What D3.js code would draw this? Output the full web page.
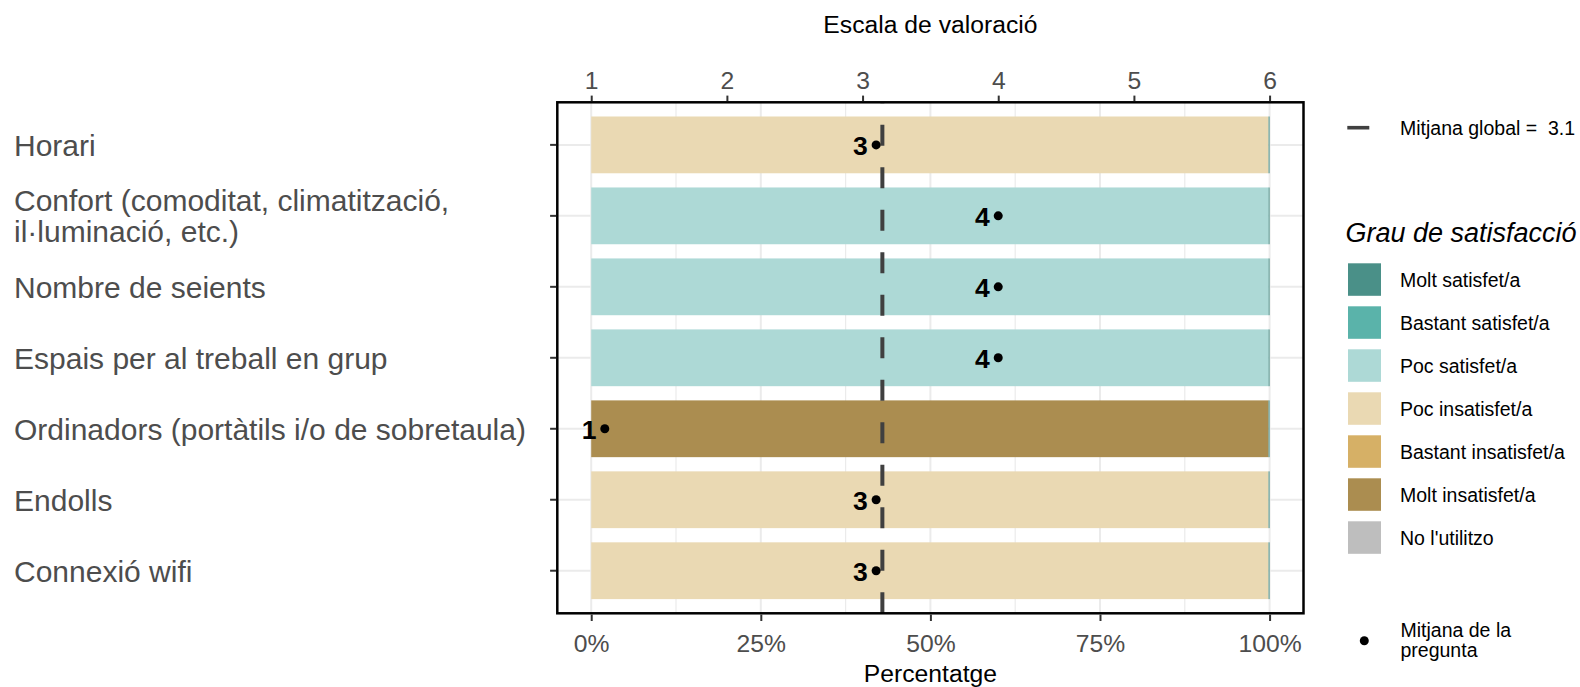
<!DOCTYPE html>
<html>
<head>
<meta charset="utf-8">
<script src="https://cdn.jsdelivr.net/npm/d3@7"></script>
<style>
  html, body { margin: 0; padding: 0; background: #fff; }
  svg { display: block; font-family: "Liberation Sans", Arial, sans-serif; }
</style>
</head>
<body>
<svg id="chart" width="1580" height="687"></svg>
<script>
// ---------------- DATA ----------------
const categories = [
  "Horari",
  "Confort (comoditat, climatització,\nil·luminació, etc.)",
  "Nombre de seients",
  "Espais per al treball en grup",
  "Ordinadors (portàtils i/o de sobretaula)",
  "Endolls",
  "Connexió wifi"
];
// stacking order, left to right
const levels = ["No l'utilitzo", "Molt insatisfet/a", "Bastant insatisfet/a", "Poc insatisfet/a",
                "Poc satisfet/a", "Bastant satisfet/a", "Molt satisfet/a"];
// percentage of answers per level (one value per category)
const noUtilitzo        = [0, 0, 0, 0, 0, 0, 0];
const moltInsatisfet    = [0, 0, 0, 0, 99.85, 0, 0];
const bastantInsatisfet = [0, 0, 0, 0, 0, 0, 0];
const pocInsatisfet     = [99.85, 0, 0, 0, 0, 99.85, 99.85];
const pocSatisfet       = [0, 99.85, 99.85, 99.85, 0, 0, 0];
const bastantSatisfet   = [0, 0, 0, 0, 0, 0, 0];
const moltSatisfet      = [0.15, 0.15, 0.15, 0.15, 0.15, 0.15, 0.15];
// mean score per question (scale 1-6)
const means = [3.1, 4.0, 4.0, 4.0, 1.1, 3.1, 3.1];
const globalMean = 3.146;
const scaleTicks = [1, 2, 3, 4, 5, 6];
const pctTicks = [0, 25, 50, 75, 100];
const legendOrder = ["Molt satisfet/a", "Bastant satisfet/a", "Poc satisfet/a", "Poc insatisfet/a",
                     "Bastant insatisfet/a", "Molt insatisfet/a", "No l'utilitzo"];
const levelColors = ["#bebebe", "#ab8d50", "#d6b066", "#ead9b3", "#add9d6", "#5ab3aa", "#4a9088"];

// ---------------- LAYOUT ----------------
const svg = d3.select("#chart");
const panel = { left: 557.3, right: 1303.5, top: 102.3, bottom: 613.3 };
const pw = panel.right - panel.left;
const unit = pw / 1.1;
const x = d3.scaleLinear().domain([0, 100]).range([panel.left + 0.05 * unit, panel.right - 0.05 * unit]);
const xTop = d3.scaleLinear().domain([1, 6]).range(x.range());
const y = d3.scaleBand().domain(categories).range([panel.top, panel.bottom])
  .paddingInner(0.2).paddingOuter(0.2).align(0.5);
const color = d3.scaleOrdinal().domain(levels).range(levelColors);

const seriesVals = [noUtilitzo, moltInsatisfet, bastantInsatisfet, pocInsatisfet, pocSatisfet, bastantSatisfet, moltSatisfet];
const table = categories.map((c, i) => {
  const row = { cat: c };
  levels.forEach((l, j) => row[l] = seriesVals[j][i]);
  return row;
});
const stacked = d3.stack().keys(levels)(table);

// ---------------- GRID ----------------
const grid = svg.append("g");
const minorTicks = d3.range(12.5, 100, 25);
grid.selectAll("line.minor").data(minorTicks).join("line")
  .attr("x1", d => x(d)).attr("x2", d => x(d))
  .attr("y1", panel.top).attr("y2", panel.bottom)
  .attr("stroke", "#ebebeb").attr("stroke-width", 1.2);
grid.selectAll("line.majx").data(pctTicks).join("line")
  .attr("x1", d => x(d)).attr("x2", d => x(d))
  .attr("y1", panel.top).attr("y2", panel.bottom)
  .attr("stroke", "#ebebeb").attr("stroke-width", 2);
grid.selectAll("line.majy").data(categories).join("line")
  .attr("x1", panel.left).attr("x2", panel.right)
  .attr("y1", d => y(d) + y.bandwidth() / 2).attr("y2", d => y(d) + y.bandwidth() / 2)
  .attr("stroke", "#ebebeb").attr("stroke-width", 2);

// ---------------- BARS ----------------
svg.append("g").selectAll("g").data(stacked).join("g")
  .attr("fill", d => color(d.key))
  .selectAll("rect").data(d => d).join("rect")
  .attr("x", d => x(d[0]))
  .attr("width", d => Math.max(0, x(d[1]) - x(d[0])))
  .attr("y", d => y(d.data.cat))
  .attr("height", y.bandwidth());

// ---------------- GLOBAL MEAN LINE ----------------
svg.append("line")
  .attr("x1", xTop(globalMean)).attr("x2", xTop(globalMean))
  .attr("y1", panel.bottom).attr("y2", panel.top)
  .attr("stroke", "#404040").attr("stroke-width", 4)
  .attr("stroke-dasharray", "21,21.5");

// ---------------- MEANS ----------------
svg.append("g").selectAll("circle").data(categories).join("circle")
  .attr("cx", (d, i) => xTop(means[i]))
  .attr("cy", d => y(d) + y.bandwidth() / 2)
  .attr("r", 4.5).attr("fill", "#000");
svg.append("g").selectAll("text").data(categories).join("text")
  .attr("x", (d, i) => xTop(means[i]) - 8.4)
  .attr("y", d => y(d) + y.bandwidth() / 2 + 10)
  .attr("text-anchor", "end")
  .attr("font-size", 26.5).attr("font-weight", "bold").attr("fill", "#000")
  .text((d, i) => d3.format(".0f")(means[i]));

// ---------------- PANEL BORDER ----------------
svg.append("rect")
  .attr("x", panel.left).attr("y", panel.top)
  .attr("width", pw).attr("height", panel.bottom - panel.top)
  .attr("fill", "none").attr("stroke", "#000").attr("stroke-width", 2.5);

// ---------------- AXES ----------------
function styleAxis(g) {
  g.select(".domain").remove();
  g.selectAll(".tick line").attr("stroke", "#333").attr("stroke-width", 2);
  g.selectAll(".tick text").attr("fill", "#4d4d4d").attr("font-family", "Liberation Sans, Arial, sans-serif");
}
const axTop = svg.append("g").attr("transform", `translate(0,${panel.top - 1.2})`)
  .call(d3.axisTop(xTop).tickValues(scaleTicks).tickFormat(d3.format("d")).tickSize(5.5).tickPadding(6.5));
styleAxis(axTop);
axTop.selectAll(".tick text").attr("font-size", 24.7).attr("dy", 0);
axTop.selectAll(".tick text").attr("y", -12.2 + 0);

const axBot = svg.append("g").attr("transform", `translate(0,${panel.bottom + 1.2})`)
  .call(d3.axisBottom(x).tickValues(pctTicks).tickFormat(d => d + "%").tickSize(6.5));
styleAxis(axBot);
axBot.selectAll(".tick text").attr("font-size", 24.7).attr("dy", 0).attr("y", 37.2);

const axLeft = svg.append("g").attr("transform", `translate(${panel.left - 1.2},0)`)
  .call(d3.axisLeft(y).tickSize(6).tickFormat(""));
styleAxis(axLeft);

// category labels (left aligned)
const catLab = svg.append("g").selectAll("text").data(categories).join("text")
  .attr("x", 14)
  .attr("font-size", 30).attr("fill", "#4d4d4d");
catLab.each(function (d) {
  const lines = d.split("\n");
  const cy = y(d) + y.bandwidth() / 2;
  const lh = 30.4;
  const t = d3.select(this);
  lines.forEach((ln, k) => {
    t.append("tspan").attr("x", 14)
      .attr("y", cy + 10.8 + (k - (lines.length - 1) / 2) * lh)
      .text(ln);
  });
});

// axis titles
svg.append("text").attr("x", (x(0) + x(100)) / 2).attr("y", 33.3)
  .attr("text-anchor", "middle").attr("font-size", 24.7).attr("fill", "#000")
  .text("Escala de valoració");
svg.append("text").attr("x", (x(0) + x(100)) / 2).attr("y", 681.5)
  .attr("text-anchor", "middle").attr("font-size", 24.7).attr("fill", "#000")
  .text("Percentatge");

// ---------------- LEGENDS ----------------
const lg = svg.append("g");
lg.append("line").attr("x1", 1347.3).attr("x2", 1369.3).attr("y1", 127.7).attr("y2", 127.7)
  .attr("stroke", "#404040").attr("stroke-width", 3.6);
lg.append("text").attr("x", 1400).attr("y", 134.5).attr("font-size", 19.5).attr("fill", "#000")
  .attr("xml:space", "preserve").style("white-space", "pre")
  .text("Mitjana global =  " + d3.format(".1f")(globalMean));

lg.append("text").attr("x", 1345.5).attr("y", 241.5).attr("font-size", 27)
  .attr("font-style", "italic").attr("fill", "#000").text("Grau de satisfacció");

const keys = lg.append("g").selectAll("g").data(legendOrder).join("g")
  .attr("transform", (d, i) => `translate(1348,${263.3 + i * 43})`);
keys.append("rect").attr("width", 33).attr("height", 32.5).attr("fill", d => color(d));
keys.append("text").attr("x", 52).attr("y", 16.25 + 7).attr("font-size", 19.5).attr("fill", "#000")
  .text(d => d);

lg.append("circle").attr("cx", 1364.3).attr("cy", 640.7).attr("r", 4.5).attr("fill", "#000");
const mt = lg.append("text").attr("font-size", 19.5).attr("fill", "#000");
mt.append("tspan").attr("x", 1400.5).attr("y", 636.7).text("Mitjana de la");
mt.append("tspan").attr("x", 1400.5).attr("y", 656.7).text("pregunta");
</script>
</body>
</html>
